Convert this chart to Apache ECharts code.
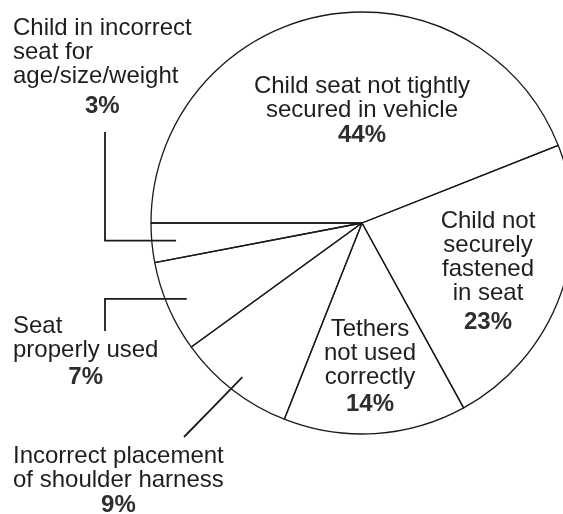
<!DOCTYPE html>
<html>
<head>
<meta charset="utf-8">
<script src="https://cdn.jsdelivr.net/npm/echarts@6/dist/echarts.min.js"></script>
<style>
  html, body { margin: 0; padding: 0; background: #ffffff; }
  #chart { width: 563px; height: 514px; }
</style>
</head>
<body>
<div id="chart"></div>
<script>
// Reasons child seats were found misused (share of inspected seats)
const categories = [
  'Child seat not tightly secured in vehicle',
  'Child not securely fastened in seat',
  'Tethers not used correctly',
  'Incorrect placement of shoulder harness',
  'Seat properly used',
  'Child in incorrect seat for age/size/weight'
];
// How each category name breaks onto lines in its label
const labelText = [
  ['Child seat not tightly', 'secured in vehicle'],
  ['Child not', 'securely', 'fastened', 'in seat'],
  ['Tethers', 'not used', 'correctly'],
  ['Incorrect placement', 'of shoulder harness'],
  ['Seat', 'properly used'],
  ['Child in incorrect', 'seat for', 'age/size/weight']
];
const percentages = [44, 23, 14, 9, 7, 3];

// Pie geometry
const CX = 362, CY = 223, RADIUS = 211, START_ANGLE = 180;
const FONT = '"Liberation Sans", Arial, Helvetica, sans-serif';
const INK = '#1e1e1c';

// Mid-angle (radians, counter-clockwise from +x) of slice i; slices run clockwise
function midAngle(i) {
  const total = percentages.reduce((a, b) => a + b, 0);
  let before = 0;
  for (let k = 0; k < i; k++) before += percentages[k];
  const deg = START_ANGLE - (before + percentages[i] / 2) / total * 360;
  return deg * Math.PI / 180;
}

// Label placement, gap above the percentage line, and leader-line routing
const labelSpots = [
  { x: 362, y: 74, align: 'center', pctLine: 26 },
  { x: 488, y: 209, align: 'center', pctLine: 34 },
  { x: 370, y: 317, align: 'center', pctLine: 31 },
  { x: 13, y: 444, align: 'left', pctLine: 26, depth: 0.925,
    route: (x0, y0) => [[x0, y0], [(x0 + 184) / 2, (y0 + 437) / 2], [184, 437]] },
  { x: 13, y: 314, align: 'left', pctLine: 30, depth: 0.905,
    route: (x0, y0) => [[x0, y0], [105, y0], [105, 331]] },
  { x: 13, y: 16, align: 'left', pctLine: 36, depth: 0.885,
    route: (x0, y0) => [[x0, y0], [105, y0], [105, 132]] }
];

const seriesData = categories.map((name, i) => {
  const spot = labelSpots[i];
  const outside = !!spot.route;
  return {
    name: name,
    value: percentages[i],
    label: {
      position: outside ? 'outside' : 'inside',
      align: spot.align,
      rich: { p: { lineHeight: spot.pctLine } }
    },
    labelLine: { show: outside }
  };
});

const chart = echarts.init(document.getElementById('chart'), null, { renderer: 'canvas' });

chart.setOption({
  animation: false,
  backgroundColor: '#ffffff',
  series: [{
    type: 'pie',
    center: [CX, CY],
    radius: RADIUS,
    startAngle: START_ANGLE,
    clockwise: true,
    avoidLabelOverlap: false,
    silent: true,
    data: seriesData,
    itemStyle: {
      color: 'rgba(255,255,255,0)',
      borderColor: '#1a1a1a',
      borderWidth: 1.3
    },
    emphasis: { disabled: true },
    label: {
      show: true,
      color: INK,
      fontFamily: FONT,
      formatter: function (p) {
        const lines = labelText[p.dataIndex].map(t => '{n|' + t + '}');
        return lines.join('\n') + '\n{p|' + p.value + '%}';
      },
      rich: {
        n: { fontFamily: FONT, fontSize: 24, lineHeight: 24, color: INK },
        p: { fontFamily: FONT, fontSize: 24, lineHeight: 26, color: '#2e2e2c',
             fontWeight: 'bold', align: 'center' }
      }
    },
    labelLine: {
      lineStyle: { color: '#1a1a1a', width: 1.8 }
    },
    labelLayout: function (params) {
      const s = labelSpots[params.dataIndex];
      const out = { x: s.x, y: s.y, align: s.align, verticalAlign: 'top' };
      if (s.route) {
        const a = midAngle(params.dataIndex);
        const r = RADIUS * s.depth;
        out.labelLinePoints = s.route(CX + r * Math.cos(a), CY - r * Math.sin(a));
      }
      return out;
    }
  }]
});
</script>
</body>
</html>
